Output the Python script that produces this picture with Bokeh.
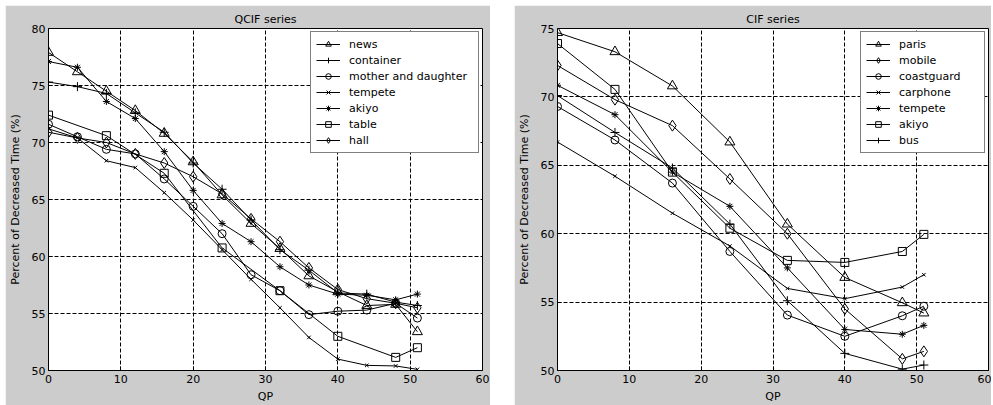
from bokeh.plotting import figure
from bokeh.models import Range1d, FixedTicker
from bokeh.layouts import row
from bokeh.embed import file_html
from bokeh.resources import INLINE

# ---------------- data ----------------
qcif_qp = [0, 4, 8, 12, 16, 20, 24, 28, 32, 36, 40, 44, 48, 51]
qcif_qp_table = [0, 8, 16, 24, 32, 40, 48, 51]
news = [77.9, 76.2, 74.5, 72.8, 70.8, 68.3, 65.4, 62.9, 60.7, 58.3, 56.9, 55.7, 55.8, 53.4]
container = [75.3, 74.9, 74.3, 72.6, 70.9, 68.2, 65.9, 63.2, 60.6, 58.8, 56.8, 56.7, 56.0, 55.7]
mother_daughter = [71.6, 70.5, 69.4, 69.0, 66.8, 64.4, 62.0, 58.4, 57.0, 54.9, 55.2, 55.3, 55.9, 54.6]
tempete_qcif = [71.2, 70.4, 68.4, 67.8, 65.6, 63.2, 60.6, 58.0, 55.5, 52.9, 51.0, 50.45, 50.4, 50.1]
akiyo_qcif = [77.1, 76.6, 73.6, 72.1, 69.2, 65.8, 62.9, 61.3, 59.1, 57.5, 56.7, 56.6, 56.2, 56.7]
table = [72.4, 70.6, 67.3, 60.75, 57.0, 53.0, 51.15, 52.0]
hall = [70.9, 70.4, 70.0, 69.0, 68.2, 67.0, 65.5, 63.3, 61.3, 59.0, 57.1, 56.3, 55.9, 55.5]

cif_qp = [0, 8, 16, 24, 32, 40, 48, 51]
paris = [74.7, 73.3, 70.8, 66.7, 60.7, 56.8, 54.95, 54.2]
mobile = [72.3, 69.8, 67.9, 64.0, 60.0, 54.5, 50.85, 51.4]
coastguard = [69.3, 66.85, 63.7, 58.7, 54.05, 52.5, 54.0, 54.7]
carphone = [66.7, 64.2, 61.5, 59.1, 56.0, 55.25, 56.1, 57.0]
tempete_cif = [70.85, 68.7, 64.5, 62.0, 57.5, 53.0, 52.65, 53.3]
akiyo_cif = [73.9, 70.55, 64.5, 60.4, 58.05, 57.9, 58.7, 59.95]
bus = [70.1, 67.4, 64.8, 60.7, 55.1, 51.25, 50.1, 50.4]

x_ticks = [0, 10, 20, 30, 40, 50, 60]
qcif_y_ticks = [50, 55, 60, 65, 70, 75, 80]
cif_y_ticks = [50, 55, 60, 65, 70, 75]

FONT = "DejaVu Sans"
GRAY = "#cccccc"

MARKER_SIZE = {"triangle": 10, "cross": 9, "circle": 8, "x": 5,
               "asterisk": 7, "square": 8, "diamond": 11}


def panel(title, width, ymax, yticks, series, bl, br, label_w, margin):
    p = figure(width=width, height=400,
               x_range=Range1d(0, 60), y_range=Range1d(50, ymax),
               output_backend="svg", toolbar_location=None,
               min_border_left=bl, min_border_right=br,
               min_border_top=23, min_border_bottom=34,
               background_fill_color="white", border_fill_color=GRAY,
               outline_line_color="black", margin=margin)
    p.title.text = title
    p.title.align = "center"
    p.title.text_font = FONT
    p.title.text_font_size = "11px"
    p.title.text_font_style = "normal"
    p.title.text_color = "black"
    p.title.standoff = 6

    for ax in (p.xaxis[0], p.yaxis[0]):
        ax.axis_label_text_font = FONT
        ax.axis_label_text_font_size = "11px"
        ax.axis_label_text_font_style = "normal"
        ax.axis_label_text_color = "black"
        ax.major_label_text_font = FONT
        ax.major_label_text_font_size = "11px"
        ax.major_label_text_color = "black"
        ax.major_tick_in = 4
        ax.major_tick_out = 0
        ax.minor_tick_line_color = None
        ax.axis_line_color = "black"
        ax.major_tick_line_color = "black"
    p.xaxis.ticker = FixedTicker(ticks=x_ticks)
    p.yaxis.ticker = FixedTicker(ticks=yticks)
    p.xaxis.axis_label = "QP"
    p.yaxis.axis_label = "Percent of Decreased Time (%)"
    p.xaxis.major_label_standoff = 4
    p.xaxis.axis_label_standoff = 4
    p.yaxis.major_label_standoff = 3
    p.yaxis.axis_label_standoff = 7

    for g in (p.xgrid[0], p.ygrid[0]):
        g.grid_line_color = "black"
        g.grid_line_dash = "4 2"
        g.grid_line_width = 1

    for name, xs, ys, marker in series:
        p.line(xs, ys, line_color="black", line_width=1, legend_label=name)
        p.scatter(xs, ys, marker=marker, size=MARKER_SIZE[marker],
                  line_color="black", fill_color=None, line_width=1,
                  legend_label=name)

    lg = p.legend[0]
    lg.location = "top_right"
    lg.margin = 3
    lg.padding = 5
    lg.spacing = 2
    lg.glyph_width = 24
    lg.glyph_height = 14
    lg.label_height = 14
    lg.label_width = label_w
    lg.label_standoff = 9
    lg.label_text_font = FONT
    lg.label_text_font_size = "11px"
    lg.label_text_color = "black"
    lg.border_line_color = "black"
    lg.border_line_width = 1
    lg.background_fill_color = "white"
    lg.background_fill_alpha = 1.0
    return p


p1 = panel("QCIF series", 485, 80, qcif_y_ticks, [
    ("news", qcif_qp, news, "triangle"),
    ("container", qcif_qp, container, "cross"),
    ("mother and daughter", qcif_qp, mother_daughter, "circle"),
    ("tempete", qcif_qp, tempete_qcif, "x"),
    ("akiyo", qcif_qp, akiyo_qcif, "asterisk"),
    ("table", qcif_qp_table, table, "square"),
    ("hall", qcif_qp, hall, "diamond"),
], 43, 8, 124, (5, 0, 0, 5))

p2 = panel("CIF series", 477, 75, cif_y_ticks, [
    ("paris", cif_qp, paris, "triangle"),
    ("mobile", cif_qp, mobile, "diamond"),
    ("coastguard", cif_qp, coastguard, "circle"),
    ("carphone", cif_qp, carphone, "x"),
    ("tempete", cif_qp, tempete_cif, "asterisk"),
    ("akiyo", cif_qp, akiyo_cif, "square"),
    ("bus", cif_qp, bus, "cross"),
], 43, 3, 80, (5, 0, 0, 0))

layout = row(p1, p2, spacing=24)
open("out.html", "w").write(file_html(layout, INLINE))
